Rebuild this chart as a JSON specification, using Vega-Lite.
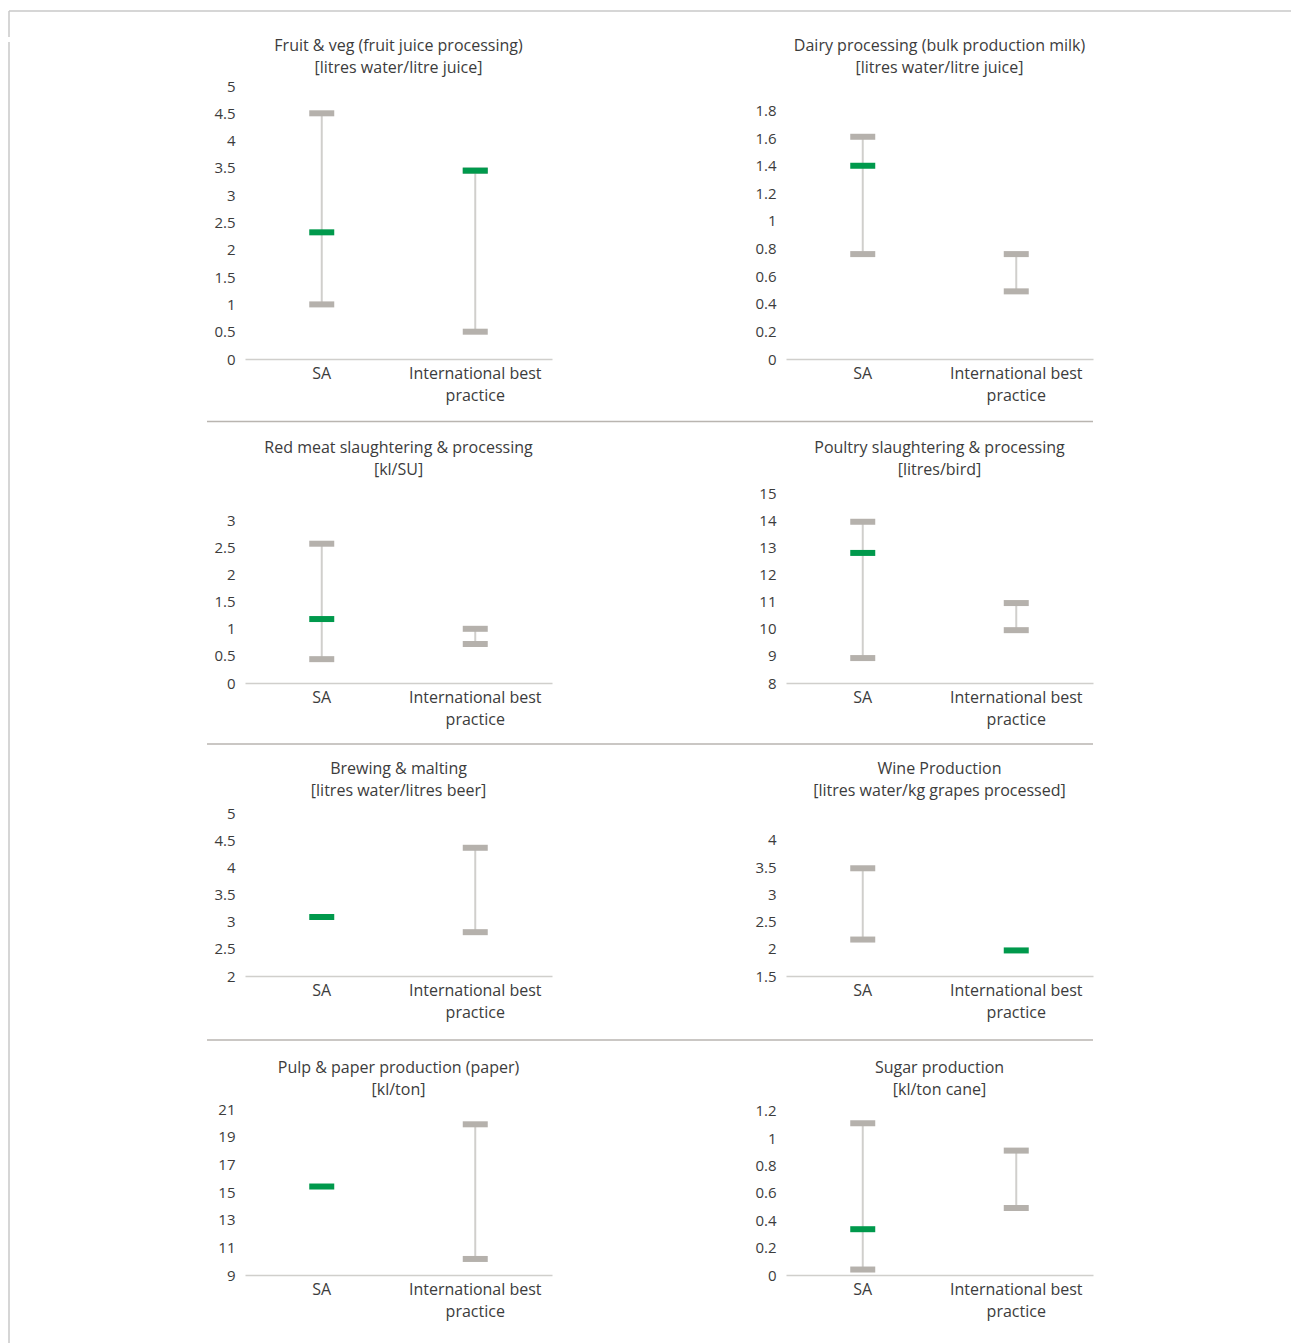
{
  "$schema": "https://vega.github.io/schema/vega-lite/v6.json",
  "padding": {"left": 8, "top": 10, "right": 0, "bottom": 0},
  "background": "white",
  "datasets": {
    "d": [
      {"p": 1, "cat": "SA", "lo": 1.0, "hi": 4.5, "avg": 2.32},
      {"p": 1, "cat": "International best practice", "lo": 0.5, "hi": 3.45, "avg": 3.45},
      {"p": 2, "cat": "SA", "lo": 0.76, "hi": 1.61, "avg": 1.4},
      {"p": 2, "cat": "International best practice", "lo": 0.49, "hi": 0.76, "avg": null},
      {"p": 3, "cat": "SA", "lo": 0.44, "hi": 2.57, "avg": 1.18},
      {"p": 3, "cat": "International best practice", "lo": 0.72, "hi": 1.0, "avg": null},
      {"p": 4, "cat": "SA", "lo": 8.92, "hi": 13.95, "avg": 12.8},
      {"p": 4, "cat": "International best practice", "lo": 9.95, "hi": 10.95, "avg": null},
      {"p": 5, "cat": "SA", "lo": null, "hi": null, "avg": 3.09},
      {"p": 5, "cat": "International best practice", "lo": 2.81, "hi": 4.37, "avg": null},
      {"p": 6, "cat": "SA", "lo": 2.17, "hi": 3.48, "avg": null},
      {"p": 6, "cat": "International best practice", "lo": null, "hi": null, "avg": 1.97},
      {"p": 7, "cat": "SA", "lo": null, "hi": null, "avg": 15.4},
      {"p": 7, "cat": "International best practice", "lo": 10.16, "hi": 19.9, "avg": null},
      {"p": 8, "cat": "SA", "lo": 0.04, "hi": 1.11, "avg": 0.335},
      {"p": 8, "cat": "International best practice", "lo": 0.49, "hi": 0.91, "avg": null}
    ],
    "sep": [{"a": -0.0448, "b": 1}],
    "frame": [{"a": 0, "b": 1, "top": 1.0276}]
  },
  "config": {
    "font": "Open Sans",
    "view": {"stroke": null},
    "title": {"fontSize": 16, "fontWeight": "normal", "color": "#3c3c3c", "anchor": "middle", "lineHeight": 22, "offset": 1},
    "axisX": {"domainColor": "#d0cfcc", "domainWidth": 1.5, "ticks": false, "grid": false, "labelAngle": 0, "labelFontSize": 16, "labelColor": "#3c3c3c", "labelPadding": 6, "labelLineHeight": 22, "labelExpr": "datum.label == 'International best practice' ? ['International best', 'practice'] : datum.label"},
    "axisY": {"domain": false, "ticks": false, "grid": false, "labelFontSize": 15, "labelColor": "#3c3c3c", "labelPadding": 10, "labelOverlap": false, "tickCount": 20, "minExtent": 38, "maxExtent": 38, "format": ".2~f"},
    "tick": {"thickness": 6, "size": 25, "opacity": 1}
  },
  "spacing": 0,
  "vconcat": [
    {"width": 1283, "height": 26, "data": {"name": "frame"},
     "layer": [
       {"mark": {"type": "rule", "color": "#c8c8c8", "strokeWidth": 1.5}, "encoding": {"x": {"field": "a", "type": "quantitative", "scale": {"domain": [0, 1]}, "axis": null}, "x2": {"field": "b"}, "y": {"datum": 1, "type": "quantitative", "scale": {"domain": [0, 1]}, "axis": null}}},
       {"mark": {"type": "rule", "color": "#c8c8c8", "strokeWidth": 1.5}, "encoding": {"x": {"field": "a", "type": "quantitative"}, "y": {"datum": 0, "type": "quantitative"}, "y2": {"datum": 1}}}
     ]},
    {"columns": 2, "spacing": 196, "concat": [
      {"width": 1, "height": 1268, "data": {"name": "frame"}, "mark": {"type": "rule", "color": "#c8c8c8", "strokeWidth": 1.5},
       "encoding": {"x": {"field": "a", "type": "quantitative", "scale": {"domain": [0, 1]}, "axis": null}, "y": {"field": "a", "type": "quantitative", "scale": {"domain": [0, 1]}, "axis": null}, "y2": {"field": "top"}}},
      {"spacing": 0, "vconcat": [
        {"hconcat": [
          {"width": 307, "height": 282, "title": {"text": ["Fruit & veg (fruit juice processing)", "[litres water/litre juice]"]},
           "data": {"name": "d"}, "transform": [{"filter": "datum.p == 1"}],
           "encoding": {"x": {"field": "cat", "type": "nominal", "title": null, "scale": {"domain": ["SA", "International best practice"], "paddingInner": 0, "paddingOuter": 0}}},
           "layer": [
             {"mark": {"type": "rule", "color": "#d0cfcc", "strokeWidth": 2}, "encoding": {"y": {"field": "lo", "type": "quantitative", "title": null, "scale": {"domain": [0, 5.165], "nice": false, "zero": false}, "axis": {"values": [0, 0.5, 1, 1.5, 2, 2.5, 3, 3.5, 4, 4.5, 5], "tickCount": 20, "labelOverlap": false}}, "y2": {"field": "hi"}}},
             {"mark": {"type": "tick", "color": "#b5b1ac"}, "encoding": {"y": {"field": "lo", "type": "quantitative", "title": null}}},
             {"mark": {"type": "tick", "color": "#b5b1ac"}, "encoding": {"y": {"field": "hi", "type": "quantitative", "title": null}}},
             {"mark": {"type": "tick", "color": "#00994c"}, "encoding": {"y": {"field": "avg", "type": "quantitative", "title": null}}}
           ]},
          {"width": 307, "height": 282, "title": {"text": ["Dairy processing (bulk production milk)", "[litres water/litre juice]"]},
           "data": {"name": "d"}, "transform": [{"filter": "datum.p == 2"}],
           "encoding": {"x": {"field": "cat", "type": "nominal", "title": null, "scale": {"domain": ["SA", "International best practice"], "paddingInner": 0, "paddingOuter": 0}}},
           "layer": [
             {"mark": {"type": "rule", "color": "#d0cfcc", "strokeWidth": 2}, "encoding": {"y": {"field": "lo", "type": "quantitative", "title": null, "scale": {"domain": [0, 2.043], "nice": false, "zero": false}, "axis": {"values": [0, 0.2, 0.4, 0.6, 0.8, 1, 1.2, 1.4, 1.6, 1.8], "tickCount": 20, "labelOverlap": false}}, "y2": {"field": "hi"}}},
             {"mark": {"type": "tick", "color": "#b5b1ac"}, "encoding": {"y": {"field": "lo", "type": "quantitative", "title": null}}},
             {"mark": {"type": "tick", "color": "#b5b1ac"}, "encoding": {"y": {"field": "hi", "type": "quantitative", "title": null}}},
             {"mark": {"type": "tick", "color": "#00994c"}, "encoding": {"y": {"field": "avg", "type": "quantitative", "title": null}}}
           ]}
        ], "spacing": 196},
        {"width": 848, "height": 37, "data": {"name": "sep"}, "mark": {"type": "rule", "color": "#b9b5b0", "strokeWidth": 1.5}, "encoding": {"x": {"field": "a", "type": "quantitative", "scale": {"domain": [0, 1]}, "axis": null}, "x2": {"field": "b"}}},
        {"hconcat": [
          {"width": 307, "height": 204, "title": {"text": ["Red meat slaughtering & processing", "[kl/SU]"]},
           "data": {"name": "d"}, "transform": [{"filter": "datum.p == 3"}],
           "encoding": {"x": {"field": "cat", "type": "nominal", "title": null, "scale": {"domain": ["SA", "International best practice"], "paddingInner": 0, "paddingOuter": 0}}},
           "layer": [
             {"mark": {"type": "rule", "color": "#d0cfcc", "strokeWidth": 2}, "encoding": {"y": {"field": "lo", "type": "quantitative", "title": null, "scale": {"domain": [0, 3.764], "nice": false, "zero": false}, "axis": {"values": [0, 0.5, 1, 1.5, 2, 2.5, 3], "tickCount": 20, "labelOverlap": false}}, "y2": {"field": "hi"}}},
             {"mark": {"type": "tick", "color": "#b5b1ac"}, "encoding": {"y": {"field": "lo", "type": "quantitative", "title": null}}},
             {"mark": {"type": "tick", "color": "#b5b1ac"}, "encoding": {"y": {"field": "hi", "type": "quantitative", "title": null}}},
             {"mark": {"type": "tick", "color": "#00994c"}, "encoding": {"y": {"field": "avg", "type": "quantitative", "title": null}}}
           ]},
          {"width": 307, "height": 204, "title": {"text": ["Poultry slaughtering & processing", "[litres/bird]"]},
           "data": {"name": "d"}, "transform": [{"filter": "datum.p == 4"}],
           "encoding": {"x": {"field": "cat", "type": "nominal", "title": null, "scale": {"domain": ["SA", "International best practice"], "paddingInner": 0, "paddingOuter": 0}}},
           "layer": [
             {"mark": {"type": "rule", "color": "#d0cfcc", "strokeWidth": 2}, "encoding": {"y": {"field": "lo", "type": "quantitative", "title": null, "scale": {"domain": [8, 15.528], "nice": false, "zero": false}, "axis": {"values": [8, 9, 10, 11, 12, 13, 14, 15], "tickCount": 20, "labelOverlap": false}}, "y2": {"field": "hi"}}},
             {"mark": {"type": "tick", "color": "#b5b1ac"}, "encoding": {"y": {"field": "lo", "type": "quantitative", "title": null}}},
             {"mark": {"type": "tick", "color": "#b5b1ac"}, "encoding": {"y": {"field": "hi", "type": "quantitative", "title": null}}},
             {"mark": {"type": "tick", "color": "#00994c"}, "encoding": {"y": {"field": "avg", "type": "quantitative", "title": null}}}
           ]}
        ], "spacing": 196},
        {"width": 848, "height": 34, "data": {"name": "sep"}, "mark": {"type": "rule", "color": "#b9b5b0", "strokeWidth": 1.5}, "encoding": {"x": {"field": "a", "type": "quantitative", "scale": {"domain": [0, 1]}, "axis": null}, "x2": {"field": "b"}}},
        {"hconcat": [
          {"width": 307, "height": 176, "title": {"text": ["Brewing & malting", "[litres water/litres beer]"]},
           "data": {"name": "d"}, "transform": [{"filter": "datum.p == 5"}],
           "encoding": {"x": {"field": "cat", "type": "nominal", "title": null, "scale": {"domain": ["SA", "International best practice"], "paddingInner": 0, "paddingOuter": 0}}},
           "layer": [
             {"mark": {"type": "rule", "color": "#d0cfcc", "strokeWidth": 2}, "encoding": {"y": {"field": "lo", "type": "quantitative", "title": null, "scale": {"domain": [2, 5.253], "nice": false, "zero": false}, "axis": {"values": [2, 2.5, 3, 3.5, 4, 4.5, 5], "tickCount": 20, "labelOverlap": false}}, "y2": {"field": "hi"}}},
             {"mark": {"type": "tick", "color": "#b5b1ac"}, "encoding": {"y": {"field": "lo", "type": "quantitative", "title": null}}},
             {"mark": {"type": "tick", "color": "#b5b1ac"}, "encoding": {"y": {"field": "hi", "type": "quantitative", "title": null}}},
             {"mark": {"type": "tick", "color": "#00994c"}, "encoding": {"y": {"field": "avg", "type": "quantitative", "title": null}}}
           ]},
          {"width": 307, "height": 176, "title": {"text": ["Wine Production", "[litres water/kg grapes processed]"]},
           "data": {"name": "d"}, "transform": [{"filter": "datum.p == 6"}],
           "encoding": {"x": {"field": "cat", "type": "nominal", "title": null, "scale": {"domain": ["SA", "International best practice"], "paddingInner": 0, "paddingOuter": 0}}},
           "layer": [
             {"mark": {"type": "rule", "color": "#d0cfcc", "strokeWidth": 2}, "encoding": {"y": {"field": "lo", "type": "quantitative", "title": null, "scale": {"domain": [1.5, 4.735], "nice": false, "zero": false}, "axis": {"values": [1.5, 2, 2.5, 3, 3.5, 4], "tickCount": 20, "labelOverlap": false}}, "y2": {"field": "hi"}}},
             {"mark": {"type": "tick", "color": "#b5b1ac"}, "encoding": {"y": {"field": "lo", "type": "quantitative", "title": null}}},
             {"mark": {"type": "tick", "color": "#b5b1ac"}, "encoding": {"y": {"field": "hi", "type": "quantitative", "title": null}}},
             {"mark": {"type": "tick", "color": "#00994c"}, "encoding": {"y": {"field": "avg", "type": "quantitative", "title": null}}}
           ]}
        ], "spacing": 196},
        {"width": 848, "height": 40, "data": {"name": "sep"}, "mark": {"type": "rule", "color": "#b9b5b0", "strokeWidth": 1.5}, "encoding": {"x": {"field": "a", "type": "quantitative", "scale": {"domain": [0, 1]}, "axis": null}, "x2": {"field": "b"}}},
        {"hconcat": [
          {"width": 307, "height": 176, "title": {"text": ["Pulp & paper production (paper)", "[kl/ton]"]},
           "data": {"name": "d"}, "transform": [{"filter": "datum.p == 7"}],
           "encoding": {"x": {"field": "cat", "type": "nominal", "title": null, "scale": {"domain": ["SA", "International best practice"], "paddingInner": 0, "paddingOuter": 0}}},
           "layer": [
             {"mark": {"type": "rule", "color": "#d0cfcc", "strokeWidth": 2}, "encoding": {"y": {"field": "lo", "type": "quantitative", "title": null, "scale": {"domain": [9, 21.73], "nice": false, "zero": false}, "axis": {"values": [9, 11, 13, 15, 17, 19, 21], "tickCount": 20, "labelOverlap": false}}, "y2": {"field": "hi"}}},
             {"mark": {"type": "tick", "color": "#b5b1ac"}, "encoding": {"y": {"field": "lo", "type": "quantitative", "title": null}}},
             {"mark": {"type": "tick", "color": "#b5b1ac"}, "encoding": {"y": {"field": "hi", "type": "quantitative", "title": null}}},
             {"mark": {"type": "tick", "color": "#00994c"}, "encoding": {"y": {"field": "avg", "type": "quantitative", "title": null}}}
           ]},
          {"width": 307, "height": 176, "title": {"text": ["Sugar production", "[kl/ton cane]"]},
           "data": {"name": "d"}, "transform": [{"filter": "datum.p == 8"}],
           "encoding": {"x": {"field": "cat", "type": "nominal", "title": null, "scale": {"domain": ["SA", "International best practice"], "paddingInner": 0, "paddingOuter": 0}}},
           "layer": [
             {"mark": {"type": "rule", "color": "#d0cfcc", "strokeWidth": 2}, "encoding": {"y": {"field": "lo", "type": "quantitative", "title": null, "scale": {"domain": [0, 1.2875], "nice": false, "zero": false}, "axis": {"values": [0, 0.2, 0.4, 0.6, 0.8, 1, 1.2], "tickCount": 20, "labelOverlap": false}}, "y2": {"field": "hi"}}},
             {"mark": {"type": "tick", "color": "#b5b1ac"}, "encoding": {"y": {"field": "lo", "type": "quantitative", "title": null}}},
             {"mark": {"type": "tick", "color": "#b5b1ac"}, "encoding": {"y": {"field": "hi", "type": "quantitative", "title": null}}},
             {"mark": {"type": "tick", "color": "#00994c"}, "encoding": {"y": {"field": "avg", "type": "quantitative", "title": null}}}
           ]}
        ], "spacing": 196}
      ]}
    ]}
  ]
}
